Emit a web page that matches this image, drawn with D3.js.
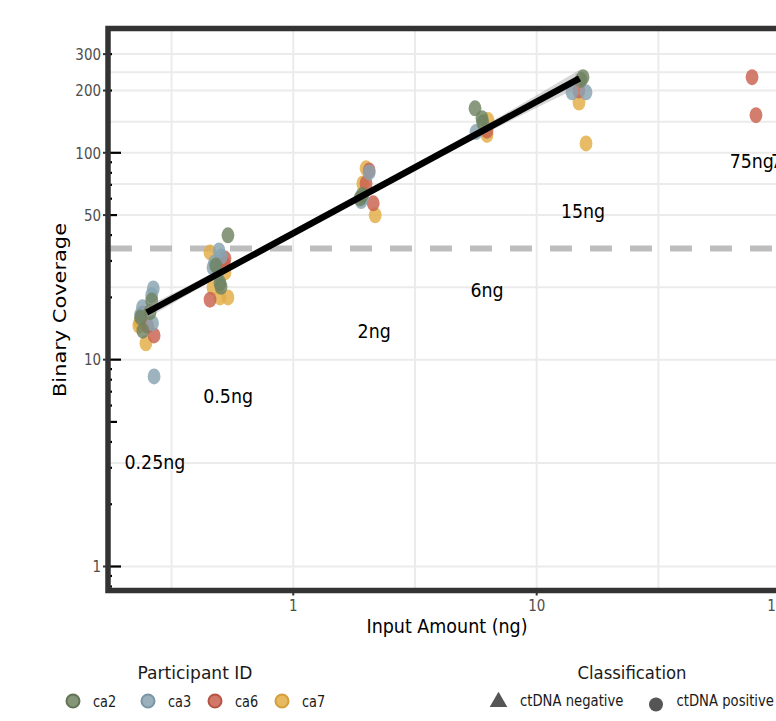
<!DOCTYPE html>
<html>
<head>
<meta charset="utf-8">
<script src="https://cdn.jsdelivr.net/npm/d3@7"></script>
<style>
html,body{margin:0;padding:0;background:#fff;overflow:hidden;}
svg{display:block;}
text{font-family:"DejaVu Sans",Verdana,sans-serif;}
</style>
</head>
<body>
<svg id="chart" width="776" height="721"></svg>
<script>
// ---------------- data ----------------
const participants = ["ca2", "ca3", "ca6", "ca7"];
const classifications = ["ctDNA negative", "ctDNA positive"];

const pointParticipant = [
  // 0.25 ng
  "ca7","ca7","ca7","ca6","ca6","ca6","ca3","ca3","ca3","ca3","ca3","ca3","ca2","ca2","ca2","ca2",
  // 0.5 ng
  "ca7","ca7","ca7","ca7","ca7","ca6","ca6","ca6","ca3","ca3","ca3","ca3","ca3","ca2","ca2","ca2","ca2",
  // 2 ng
  "ca7","ca7","ca7","ca6","ca6","ca6","ca3","ca3","ca3","ca2","ca2",
  // 6 ng
  "ca7","ca7","ca6","ca3","ca2","ca2","ca2",
  // 15 ng
  "ca7","ca7","ca6","ca3","ca3","ca2","ca2",
  // 75 ng
  "ca6","ca6"
];
const pointInput = [
  0.232,0.248,0.234,0.240,0.268,0.252,0.266,0.262,0.240,0.264,0.268,0.236,0.262,0.241,0.236,0.258,
  0.455,0.524,0.468,0.539,0.500,0.524,0.455,0.520,0.495,0.475,0.468,0.505,0.490,0.539,0.500,0.505,0.481,
  1.99,1.93,2.17,2.05,1.99,2.13,2.05,1.93,1.90,1.88,1.92,
  6.31,6.25,6.25,5.63,5.58,5.96,6.00,
  14.92,15.95,14.9,13.96,15.95,15.5,15.2,
  76.7,79.6
];
const pointCoverage = [
  14.6,12.0,15.2,16.7,13.1,14.6,22.1,20.5,17.9,15.0,8.3,16.5,19.3,13.8,16.0,17.0,
  33.0,26.4,22.3,20.0,20.0,30.8,19.5,29.0,33.7,29.5,27.9,31.5,26.0,39.9,23.4,22.5,28.5,
  84.1,71.1,49.9,82.2,71.1,57.0,80.4,60.9,58.5,60.2,62.5,
  144,122,128,126,164,147,140,
  175,111,200,196,196,232,225,
  232,152
];
const pointClass = pointParticipant.map(() => "ctDNA positive");

// regression fit (log-log) and its confidence band
const fitInput = [0.25, 15];
const fitCoverage = [16.9, 229];
const bandInput = [0.25, 0.5, 1, 2, 4, 8, 15];
const bandLow  = [15.8, 25.3, 39.7, 61.7, 95.6, 145, 208];
const bandHigh = [18.1, 27.3, 42.1, 65.5, 102.4, 163, 252];

// detection threshold (dashed)
const thresholdCoverage = 34.5;

// input-amount labels
const labelText = ["0.25ng", "0.5ng", "2ng", "6ng", "15ng", "75ng", "75ng"];
const labelInput = [0.270, 0.540, 2.15, 6.25, 15.5, 76.5, 113];
const labelCoverage = [3.22, 6.71, 13.8, 21.8, 52.6, 91.8, 91.8];

// axes
const xTicks = [1, 10, 100];
const xMinor = [0.3162, 3.162, 31.62, 316.2];
const yTicks = [1, 10, 50, 100, 200, 300];
const yMinor = [3.162, 22.36, 70.71, 141.4, 244.9];

// ---------------- style ----------------
const colorOf = {ca2: "#6e8260", ca3: "#88a3b1", ca6: "#c9604f", ca7: "#e3ad45"};
const strokeOf = {ca2: "#627454", ca3: "#7a95a3", ca6: "#b95343", ca7: "#d39f3a"};

const svg = d3.select("#chart");
const L = 108, T = 28.5, B = 590.5, R = 880;

const x = d3.scaleLog().domain([0.1733, 257.3]).range([L, R]);
const y = d3.scaleLog().domain([0.7655, 399]).range([B, T]);

svg.append("defs").append("clipPath").attr("id", "panel")
  .append("rect").attr("x", L).attr("y", T).attr("width", R - L).attr("height", B - T);

const panel = svg.append("g").attr("clip-path", "url(#panel)");

// gridlines
const gridColor = "#ebebeb";
panel.selectAll("line.vg").data(xTicks.concat(xMinor)).enter().append("line")
  .attr("x1", d => x(d)).attr("x2", d => x(d)).attr("y1", T).attr("y2", B)
  .attr("stroke", gridColor).attr("stroke-width", 2);
panel.selectAll("line.hg").data(yTicks.concat(yMinor)).enter().append("line")
  .attr("x1", L).attr("x2", R).attr("y1", d => y(d)).attr("y2", d => y(d))
  .attr("stroke", gridColor).attr("stroke-width", 2);

// threshold
panel.append("line")
  .attr("x1", L).attr("x2", R)
  .attr("y1", y(thresholdCoverage)).attr("y2", y(thresholdCoverage))
  .attr("stroke", "#bdbdbd").attr("stroke-width", 6)
  .attr("stroke-dasharray", "22,18").attr("stroke-dashoffset", -2);

// points
const pts = pointInput.map((v, i) => ({x: v, y: pointCoverage[i], p: pointParticipant[i], c: pointClass[i]}));
panel.selectAll("ellipse.pt").data(pts).enter().append("ellipse")
  .attr("cx", d => x(d.x)).attr("cy", d => y(d.y))
  .attr("rx", 6.4).attr("ry", 8)
  .attr("fill", d => colorOf[d.p]).attr("fill-opacity", 0.82);

// confidence band + fit line
const band = bandInput.map((v, i) => ({x: v, lo: bandLow[i], hi: bandHigh[i]}));
panel.append("path").datum(band)
  .attr("d", d3.area().x(d => x(d.x)).y0(d => y(d.lo)).y1(d => y(d.hi)).curve(d3.curveMonotoneX))
  .attr("fill", "#9a9a9a").attr("fill-opacity", 0.4);
panel.append("path").datum(fitInput.map((v, i) => ({x: v, y: fitCoverage[i]})))
  .attr("d", d3.line().x(d => x(d.x)).y(d => y(d.y)))
  .attr("stroke", "#000").attr("stroke-width", 6.5).attr("fill", "none");

function squeeze(k) {
  return function () { this.setAttribute("textLength", this.getComputedTextLength() * k); this.setAttribute("lengthAdjust", "spacingAndGlyphs"); };
}

// input labels
panel.selectAll("text.lab").data(labelText.map((t, i) => ({t, x: labelInput[i], y: labelCoverage[i]})))
  .enter().append("text")
  .attr("x", d => x(d.x)).attr("y", d => y(d.y))
  .attr("text-anchor", "middle").attr("dy", "0.36em")
  .attr("font-size", 20).attr("fill", "#000")
  .text(d => d.t)
  .each(squeeze(0.87));

// log ticks (inside, left)
const logTicks = [];
for (let dec = 0.1; dec <= 100; dec *= 10) {
  for (let k = 1; k <= 9; k++) {
    const v = +(k * dec).toPrecision(3);
    if (v >= 0.7655 && v <= 399) logTicks.push({v, len: k === 1 ? 13 : (k === 5 ? 9 : 4)});
  }
}
svg.selectAll("line.lt").data(logTicks).enter().append("line")
  .attr("x1", L).attr("x2", d => L + d.len)
  .attr("y1", d => y(d.v)).attr("y2", d => y(d.v))
  .attr("stroke", "#000").attr("stroke-width", 2.2);

// panel border
svg.append("rect").attr("x", L).attr("y", T).attr("width", R - L).attr("height", B - T)
  .attr("fill", "none").attr("stroke", "#333").attr("stroke-width", 5.5);

// axis ticks
svg.selectAll("line.yt").data(yTicks).enter().append("line")
  .attr("x1", L - 5).attr("x2", L).attr("y1", d => y(d)).attr("y2", d => y(d))
  .attr("stroke", "#333").attr("stroke-width", 2);
svg.selectAll("line.xt").data(xTicks).enter().append("line")
  .attr("x1", d => x(d)).attr("x2", d => x(d)).attr("y1", B).attr("y2", B + 5)
  .attr("stroke", "#333").attr("stroke-width", 2);

// tick labels
const fmt = d => String(d);
svg.selectAll("text.yl").data(yTicks).enter().append("text")
  .attr("x", L - 7).attr("y", d => y(d)).attr("dy", "0.36em")
  .attr("text-anchor", "end").attr("font-size", 16).attr("fill", "#4d4d4d")
  .text(fmt).each(squeeze(0.84));
svg.selectAll("text.xl").data(xTicks).enter().append("text")
  .attr("x", d => x(d)).attr("y", 611)
  .attr("text-anchor", "middle").attr("font-size", 16).attr("fill", "#4d4d4d")
  .text(fmt).each(squeeze(0.84));

// axis titles
svg.append("text").attr("x", 447).attr("y", 633).attr("text-anchor", "middle")
  .attr("font-size", 20).attr("fill", "#000").text("Input Amount (ng)")
  .attr("textLength", 161).attr("lengthAdjust", "spacingAndGlyphs");
svg.append("text").attr("transform", "translate(66,310) rotate(-90)").attr("text-anchor", "middle")
  .attr("font-size", 17.5).attr("fill", "#000").text("Binary Coverage")
  .attr("textLength", 174).attr("lengthAdjust", "spacingAndGlyphs");

// legend: participant
svg.append("text").attr("x", 195).attr("y", 679).attr("text-anchor", "middle")
  .attr("font-size", 17).attr("fill", "#1a1a1a").text("Participant ID")
  .attr("textLength", 115).attr("lengthAdjust", "spacingAndGlyphs");
const legX = [73, 148, 215, 282];
const lg = svg.selectAll("g.lp").data(participants).enter().append("g")
  .attr("transform", (d, i) => `translate(${legX[i]},701)`);
lg.append("circle").attr("r", 6.5).attr("fill", d => colorOf[d]).attr("fill-opacity", 0.85)
  .attr("stroke", d => strokeOf[d]).attr("stroke-width", 2);
lg.append("text").attr("x", 20).attr("y", 5.5).attr("font-size", 15).attr("fill", "#1a1a1a")
  .text(d => d).each(squeeze(0.86));

// legend: classification
svg.append("text").attr("x", 632).attr("y", 679).attr("text-anchor", "middle")
  .attr("font-size", 17).attr("fill", "#1a1a1a").text("Classification")
  .attr("textLength", 109).attr("lengthAdjust", "spacingAndGlyphs");
const clsX = [498.5, 656];
const cg = svg.selectAll("g.lc").data(classifications).enter().append("g")
  .attr("transform", (d, i) => `translate(${clsX[i]},${i === 0 ? 702 : 704.5})`);
cg.each(function (d, i) {
  const g = d3.select(this);
  if (i === 0) g.append("path").attr("d", d3.symbol().type(d3.symbolTriangle).size(135)).attr("fill", "#555");
  else g.append("circle").attr("r", 7).attr("fill", "#555");
});
cg.append("text").attr("x", (d, i) => i === 0 ? 21.5 : 20.5).attr("y", (d, i) => i === 0 ? 4 : 1.5)
  .attr("font-size", 15).attr("fill", "#1a1a1a").text(d => d).each(squeeze(0.88));
</script>
</body>
</html>
